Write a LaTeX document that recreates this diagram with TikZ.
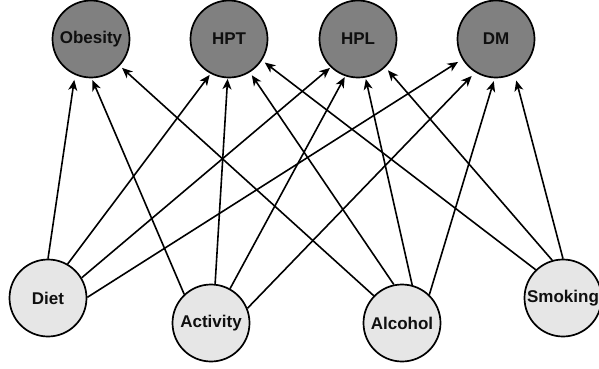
\documentclass[tikz,border=0pt]{standalone}
\usepackage{fontspec}
\setmainfont{Liberation Sans}
\usetikzlibrary{arrows.meta}
\definecolor{topfill}{RGB}{128,128,128}
\definecolor{botfill}{RGB}{230,230,230}
\definecolor{txt}{RGB}{15,15,15}
\begin{document}
\begin{tikzpicture}[x=1pt,y=-1pt,
  var/.style={circle,draw=black,line width=1.7pt,minimum size=77pt,inner sep=0pt,
    font=\fontsize{17}{20}\selectfont\bfseries,text=txt},
  outcome/.style={var,fill=topfill},
  factor/.style={var,fill=botfill},
  edge/.style={line width=1.6pt,-{Stealth[length=10.5pt,width=9pt,inset=3pt]}}]
\useasboundingbox (0,0) rectangle (599,368);
\begin{scope}
\clip (0,0) rectangle (599,368);
% outcome nodes
\node[outcome] (obesity) at (91,39) {Obesity};
\node[outcome] (hpt) at (229,39) {HPT};
\node[outcome] (hpl) at (358,39) {HPL};
\node[outcome] (dm) at (496,39) {DM};
% factor nodes
\node[factor] (diet) at (48,298) {Diet};
\node[factor] (activity) at (211,323) {Activity};
\node[factor] (alcohol) at (402,323) {Alcohol};
\node[factor] (smoking) at (563,298) {Smoking};
% edges from Diet
\draw[edge,shorten >=5pt] (diet.90) -- (obesity.246);
\draw[edge,shorten >=1.5pt] (diet.60) -- (hpt.242);
\draw[edge,shorten >=1pt] (diet.31) -- (hpl.226);
\draw[edge,shorten >=5pt] (diet.1.5) -- (dm.211);
% edges from Activity
\draw[edge,shorten >=2pt] (activity.133) -- (obesity.271);
\draw[edge,shorten >=0.5pt] (activity.84) -- (hpt.268.5);
\draw[edge,shorten >=1pt] (activity.61.5) -- (hpl.251);
\draw[edge,shorten >=5pt] (activity.22.8) -- (dm.238.8);
% edges from Alcohol
\draw[edge,shorten >=3pt] (alcohol.136) -- (obesity.317);
\draw[edge,shorten >=3.5pt] (alcohol.102) -- (hpt.302.6);
\draw[edge,shorten >=1.5pt] (alcohol.75) -- (hpl.281);
\draw[edge,shorten >=3pt] (alcohol.46) -- (dm.268.6);
% edges from Smoking
\draw[edge,shorten >=3.5pt] (smoking.134) -- (hpt.327.4);
\draw[edge,shorten >=4pt] (smoking.106) -- (hpl.314);
\draw[edge,shorten >=7pt] (smoking.90) -- (dm.298);
\end{scope}
\end{tikzpicture}
\end{document}
